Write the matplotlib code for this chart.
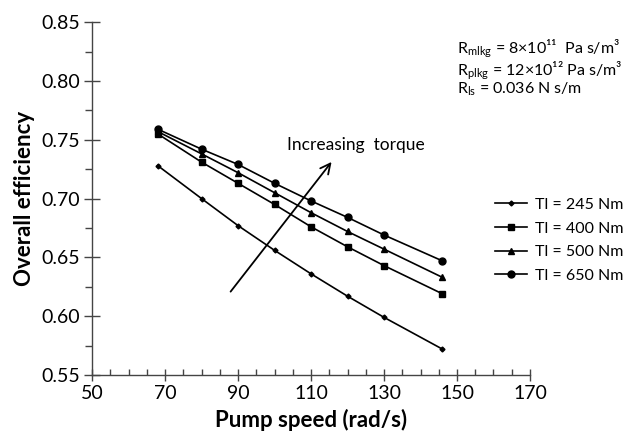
import matplotlib
matplotlib.use("Agg")
import matplotlib.pyplot as plt
from matplotlib.ticker import MultipleLocator

plt.rcParams['font.family'] = ['Lato', 'DejaVu Sans']
plt.rcParams['mathtext.fontset'] = 'custom'
plt.rcParams['mathtext.rm'] = 'Lato'
plt.rcParams['mathtext.it'] = 'Lato'

# pump speed (rad/s)
speed = [68, 80, 90, 100, 110, 120, 130, 146]

eff_245 = [0.728, 0.700, 0.677, 0.656, 0.636, 0.617, 0.599, 0.572]
eff_400 = [0.755, 0.731, 0.713, 0.695, 0.676, 0.659, 0.643, 0.619]
eff_500 = [0.757, 0.738, 0.722, 0.705, 0.688, 0.672, 0.657, 0.633]
eff_650 = [0.759, 0.742, 0.729, 0.713, 0.698, 0.684, 0.669, 0.647]

labels = ["Tl = 245 Nm", "Tl = 400 Nm", "Tl = 500 Nm", "Tl = 650 Nm"]
xticks = [50, 70, 90, 110, 130, 150, 170]

fig = plt.figure(figsize=(6.32, 4.42), dpi=100)
ax = fig.add_axes([0.1456, 0.1516, 0.693, 0.7984])

ax.plot(speed, eff_245, color='black', lw=1.2, marker='D', ms=2.5, label=labels[0])
ax.plot(speed, eff_400, color='black', lw=1.2, marker='s', ms=5, label=labels[1])
ax.plot(speed, eff_500, color='black', lw=1.2, marker='^', ms=5, label=labels[2])
ax.plot(speed, eff_650, color='black', lw=1.2, marker='o', ms=5, label=labels[3])

ax.set_xlim(50, 170)
ax.set_ylim(0.55, 0.85)
ax.set_xticks(xticks)
ax.xaxis.set_minor_locator(MultipleLocator(5))
ax.yaxis.set_major_locator(MultipleLocator(0.05))
ax.yaxis.set_minor_locator(MultipleLocator(0.025))
ax.yaxis.set_major_formatter(plt.FormatStrFormatter('%.2f'))

for s in ['top', 'right']:
    ax.spines[s].set_visible(False)
for s in ['left', 'bottom']:
    ax.spines[s].set_color('#444444')
    ax.spines[s].set_linewidth(1.0)

ax.tick_params(axis='x', which='major', direction='inout', length=9, width=1, color='#444444', labelsize=14, pad=3)
ax.tick_params(axis='x', which='minor', direction='in', length=4, width=1, color='#444444')
ax.tick_params(axis='y', which='major', direction='inout', length=11, width=1, color='#444444', labelsize=14, pad=3)
ax.tick_params(axis='y', which='minor', direction='out', length=5, width=1, color='#444444')

ax.set_xlabel("Pump speed (rad/s)", fontsize=16, fontweight='bold', labelpad=5)
ax.set_ylabel("Overall efficiency", fontsize=16, fontweight='bold', labelpad=5)

ax.annotate("", xy=(116.1, 0.733), xytext=(87.5, 0.619),
            arrowprops=dict(arrowstyle='->', color='black', lw=1.3, mutation_scale=18))
ax.text(103.4, 0.7455, "Increasing  torque", fontsize=12.5, va='center', ha='left')

fig.text(0.7225, 0.889, r"R$_{\mathrm{mlkg}}$ = 8×10¹¹  Pa s/m³", fontsize=11.5, va='center')
fig.text(0.7225, 0.840, r"R$_{\mathrm{plkg}}$ = 12×10¹² Pa s/m³", fontsize=11.5, va='center')
fig.text(0.7225, 0.797, r"R$_{\mathrm{ls}}$ = 0.036 N s/m", fontsize=11.5, va='center')

leg = fig.legend(loc='upper left', bbox_to_anchor=(0.784, 0.553), frameon=False,
                 fontsize=11.5, handlelength=2.0, handletextpad=0.45, labelspacing=0.6,
                 borderpad=0, borderaxespad=0)

fig.savefig("out.png", dpi=100)
